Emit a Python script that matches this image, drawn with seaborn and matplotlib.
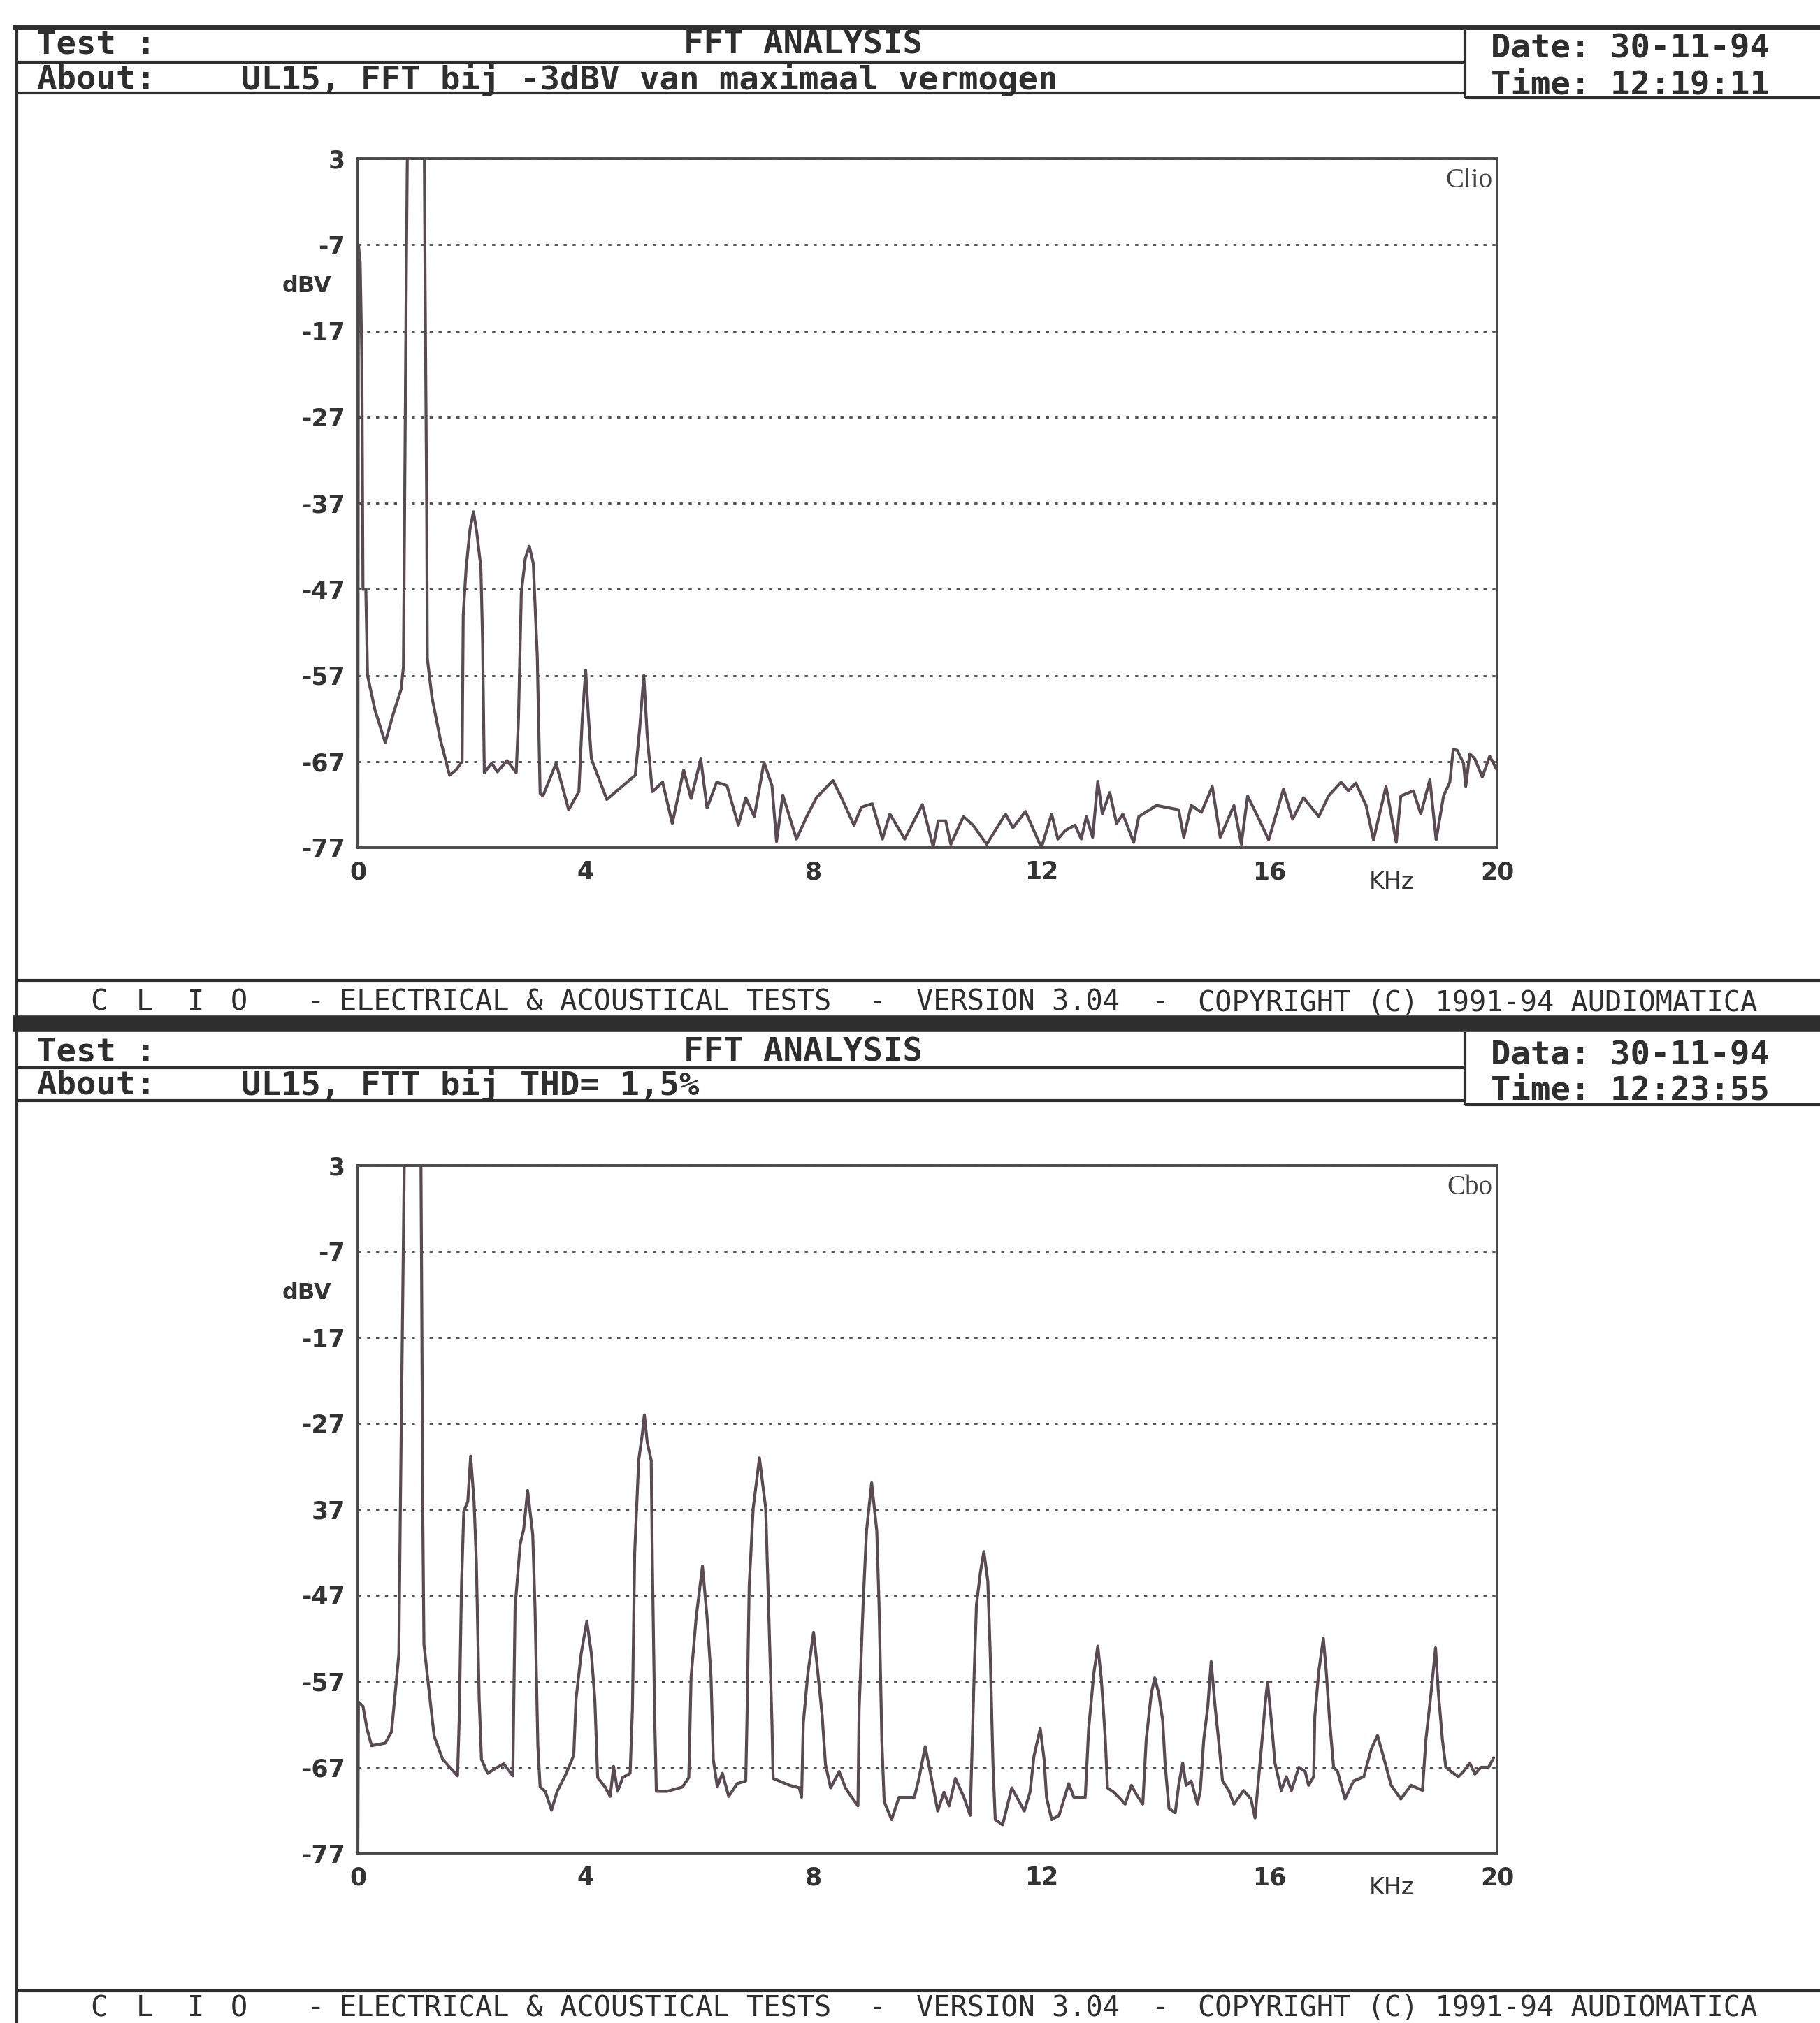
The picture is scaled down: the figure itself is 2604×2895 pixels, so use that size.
import matplotlib
matplotlib.use("Agg")
import matplotlib.pyplot as plt
import seaborn as sns
from matplotlib.lines import Line2D

# Spectrum traces (kHz, dBV); values above 3 are clipped by the frame
freq_top = [0.00, 0.01, 0.04, 0.07, 0.09, 0.14, 0.17, 0.30, 0.48, 0.62, 0.76, 0.80, 0.82, 0.85, 0.88,
            1.16, 1.18, 1.21, 1.22, 1.30, 1.45, 1.61, 1.72, 1.83, 1.85, 1.90, 1.97, 2.03, 2.09, 2.16,
            2.19, 2.22, 2.35, 2.45, 2.62, 2.78, 2.82, 2.87, 2.94, 3.01, 3.08, 3.15, 3.20, 3.25, 3.48,
            3.70, 3.88, 3.94, 4.00, 4.05, 4.10, 4.37, 4.87, 4.95, 5.02, 5.08, 5.17, 5.35, 5.52, 5.72,
            5.85, 6.02, 6.13, 6.30, 6.48, 6.68, 6.81, 6.96, 7.13, 7.27, 7.35, 7.46, 7.70, 7.88, 8.05,
            8.34, 8.49, 8.71, 8.84, 9.03, 9.21, 9.34, 9.60, 9.91, 10.10, 10.19, 10.32, 10.41, 10.63,
            10.80, 11.04, 11.37, 11.50, 11.72, 12.00, 12.18, 12.29, 12.42, 12.59, 12.70, 12.79, 12.90,
            12.99, 13.07, 13.20, 13.32, 13.43, 13.62, 13.71, 14.02, 14.41, 14.50, 14.63, 14.81, 15.00,
            15.14, 15.38, 15.51, 15.62, 15.82, 15.99, 16.25, 16.41, 16.60, 16.87, 17.04, 17.26, 17.39,
            17.52, 17.70, 17.83, 18.05, 18.23, 18.31, 18.53, 18.66, 18.82, 18.93, 19.06, 19.17, 19.23,
            19.30, 19.41, 19.45, 19.52, 19.61, 19.74, 19.87, 20.00]
dbv_top = [-77.0, -7.0, -9.0, -20.0, -47.0, -47.0, -57.0, -61.0, -64.8, -61.5, -58.6, -56.0, -38.5, -11.0, 12.0,
           12.0, -11.0, -38.5, -55.0, -59.5, -64.5, -68.6, -68.0, -67.0, -50.0, -44.6, -40.0, -38.0, -40.5, -44.5,
           -53.0, -68.3, -67.2, -68.2, -66.9, -68.3, -62.0, -47.4, -43.4, -42.0, -44.0, -54.8, -70.7, -71.0, -67.2,
           -72.6, -70.5, -62.0, -56.4, -62.0, -66.7, -71.4, -68.6, -63.0, -57.0, -64.0, -70.5, -69.4, -74.2, -68.0,
           -71.3, -66.7, -72.4, -69.4, -69.8, -74.4, -71.2, -73.4, -67.1, -69.8, -76.3, -70.9, -76.0, -73.4, -71.2,
           -69.2, -71.2, -74.4, -72.3, -71.9, -76.0, -73.1, -76.0, -72.0, -76.9, -73.9, -73.9, -76.6, -73.4,
           -74.4, -76.6, -73.1, -74.7, -72.8, -77.0, -73.1, -76.0, -75.0, -74.4, -76.0, -73.4, -75.8,
           -69.3, -73.1, -70.6, -74.2, -73.1, -76.4, -73.4, -72.1, -72.6, -75.8, -72.1, -72.9, -69.9,
           -75.8, -72.1, -76.6, -71.0, -73.7, -76.1, -70.2, -73.7, -71.2, -73.4, -71.0, -69.4, -70.4,
           -69.5, -72.1, -76.1, -69.9, -76.4, -71.0, -70.4, -73.1, -69.1, -76.1, -71.0, -69.4, -65.6,
           -65.7, -67.2, -69.9, -66.1, -66.7, -68.8, -66.4, -68.0]

freq_bot = [0.00, 0.01, 0.09, 0.16, 0.24, 0.48, 0.59, 0.66, 0.72, 0.745, 0.79, 0.83, 1.10, 1.12, 1.14,
            1.16, 1.25, 1.34, 1.49, 1.75, 1.78, 1.82, 1.86, 1.93, 1.98, 2.04, 2.08, 2.13, 2.17, 2.28,
            2.45, 2.56, 2.72, 2.76, 2.85, 2.91, 2.98, 3.07, 3.11, 3.16, 3.20, 3.29, 3.40, 3.50, 3.66,
            3.79, 3.83, 3.92, 4.02, 4.10, 4.16, 4.21, 4.34, 4.43, 4.49, 4.56, 4.65, 4.78, 4.82, 4.86,
            4.93, 4.99, 5.03, 5.08, 5.15, 5.17, 5.21, 5.24, 5.43, 5.70, 5.81, 5.85, 5.94, 6.05, 6.13,
            6.20, 6.24, 6.31, 6.40, 6.51, 6.66, 6.81, 6.83, 6.87, 6.94, 7.05, 7.16, 7.20, 7.27, 7.29,
            7.58, 7.75, 7.79, 7.82, 7.90, 8.00, 8.06, 8.15, 8.21, 8.30, 8.45, 8.56, 8.67, 8.78, 8.80,
            8.87, 8.93, 9.02, 9.11, 9.15, 9.20, 9.24, 9.37, 9.50, 9.77, 9.85, 9.96, 10.07, 10.18, 10.29,
            10.38, 10.49, 10.64, 10.75, 10.82, 10.86, 10.93, 10.99, 11.06, 11.10, 11.15, 11.19, 11.32,
            11.48, 11.70, 11.80, 11.87, 11.98, 12.05, 12.09, 12.18, 12.31, 12.48, 12.57, 12.77, 12.83,
            12.92, 12.99, 13.05, 13.12, 13.16, 13.27, 13.36, 13.47, 13.58, 13.67, 13.78, 13.84, 13.93,
            13.99, 14.06, 14.13, 14.17, 14.24, 14.35, 14.41, 14.48, 14.54, 14.63, 14.74, 14.79, 14.85,
            14.92, 14.98, 15.05, 15.11, 15.18, 15.29, 15.38, 15.55, 15.68, 15.75, 15.86, 15.93, 15.97,
            16.03, 16.10, 16.21, 16.30, 16.39, 16.52, 16.63, 16.69, 16.78, 16.80, 16.87, 16.95, 17.00,
            17.06, 17.13, 17.20, 17.33, 17.48, 17.66, 17.79, 17.90, 18.01, 18.14, 18.31, 18.49, 18.69,
            18.75, 18.84, 18.92, 18.97, 19.04, 19.10, 19.19, 19.32, 19.41, 19.52, 19.61, 19.72, 19.85,
            19.94]
dbv_bot = [-77.0, -59.4, -59.9, -62.5, -64.5, -64.2, -62.9, -58.1, -53.8, -37.7, -11.0, 12.0, 12.0, -11.0, -37.7,
           -52.7, -58.1, -63.4, -66.1, -68.0, -61.3, -45.8, -37.2, -36.1, -30.8, -36.1, -43.1, -59.1, -66.1, -67.7,
           -67.0, -66.6, -68.0, -48.4, -41.0, -39.4, -34.8, -39.9, -48.4, -64.5, -69.3, -69.8, -72.0, -69.8, -67.7,
           -65.6, -59.1, -53.8, -50.0, -53.8, -59.1, -68.2, -69.3, -70.4, -66.9, -69.8, -68.2, -67.7, -60.2, -42.0,
           -31.3, -28.4, -26.0, -29.2, -31.3, -43.1, -60.7, -69.8, -69.8, -69.3, -68.2, -56.5, -49.5, -43.6, -49.5,
           -56.5, -66.1, -69.3, -67.7, -70.4, -68.9, -68.6, -61.9, -45.9, -36.9, -31.0, -36.9, -45.9, -61.9, -68.3,
           -69.1, -69.4, -70.5, -61.9, -56.1, -51.3, -55.0, -60.9, -66.7, -69.4, -67.5, -69.4, -70.5, -71.5, -60.3,
           -48.1, -39.5, -33.9, -39.5, -48.1, -64.1, -71.0, -73.1, -70.5, -70.5, -68.3, -64.6, -68.3, -72.1, -69.9,
           -71.5, -68.3, -70.5, -72.6, -56.1, -48.1, -44.3, -41.9, -45.4, -53.4, -66.7, -73.1, -73.7,
           -69.4, -72.1, -69.9, -65.7, -62.5, -66.2, -70.5, -73.1, -72.6, -68.9, -70.5, -70.5, -62.5,
           -56.1, -52.9, -56.6, -63.5, -69.4, -69.9, -70.5, -71.3, -69.1, -70.2, -71.3, -63.8, -58.4,
           -56.6, -58.4, -61.6, -66.5, -71.8, -72.3, -69.1, -66.5, -69.1, -68.6, -71.3, -69.7, -63.8,
           -60.0, -54.7, -60.0, -63.8, -68.6, -69.7, -71.3, -69.7, -70.7, -72.9, -64.9, -59.5, -57.1,
           -61.1, -66.5, -69.7, -68.1, -69.7, -67.0, -67.5, -69.1, -68.1, -61.1, -55.8, -52.0, -55.8,
           -61.6, -67.0, -67.5, -70.7, -68.6, -68.1, -64.9, -63.3, -65.9, -69.1, -70.7, -69.1, -69.7,
           -63.8, -58.4, -53.1, -58.4, -63.8, -67.0, -67.5, -68.1, -67.5, -66.5, -67.8, -67.0, -67.0,
           -65.9]

y_ticks = [3, -7, -17, -27, -37, -47, -57, -67, -77]
y_labels_top = ["3", "-7", "-17", "-27", "-37", "-47", "-57", "-67", "-77"]
y_labels_bot = ["3", "-7", "-17", "-27", "37", "-47", "-57", "-67", "-77"]
x_ticks = [0, 4, 8, 12, 16, 20]

footer_parts = ["C", "L", "I", "O", "-", "ELECTRICAL & ACOUSTICAL TESTS", "-", "VERSION 3.04", "-",
                "COPYRIGHT (C) 1991-94 AUDIOMATICA"]

W, H = 2604, 2895
INK = "#2e2e2e"
TRACE = "#5a4a51"

sns.set_theme(style="white")
plt.rcParams['font.family'] = ['DejaVu Sans']

fig = plt.figure(figsize=(W / 100, H / 100), dpi=100)
fig.patch.set_facecolor("white")


def fx(x):
    return x / W


def fy(y):
    return 1 - y / H


def hline(y, x0, x1, lw=3.0):
    fig.add_artist(Line2D([fx(x0), fx(x1)], [fy(y), fy(y)], transform=fig.transFigure,
                          lw=lw, color=INK, solid_capstyle="butt"))


def vline(x, y0, y1, lw=3.0):
    fig.add_artist(Line2D([fx(x), fx(x)], [fy(y0), fy(y1)], transform=fig.transFigure,
                          lw=lw, color=INK, solid_capstyle="butt"))


def mono(x, y, s, size=34, weight="bold", ha="left"):
    fig.text(fx(x), fy(y), s, ha=ha, va="center", fontsize=size, fontweight=weight,
             family="DejaVu Sans Mono", color=INK)


def header(top, test_y, about_y, date_y, time_y, sep_y, low_y, box_low_y, about, date_lbl, time_str):
    vline(2096, top, box_low_y)
    hline(sep_y, 24, 2096)
    hline(low_y, 24, 2096)
    hline(box_low_y, 2096, W)
    mono(52, test_y, "Test :")
    mono(1149, test_y, "FFT ANALYSIS", ha="center")
    mono(52, about_y, "About:")
    mono(345, about_y, about)
    mono(2133, date_y, date_lbl + " 30-11-94")
    mono(2133, time_y, "Time: " + time_str)


def footer(y):
    xs = [129, 195, 268, 330, 440, 486, 1243, 1311, 1648, 1714]
    for x, s in zip(xs, footer_parts):
        mono(x, y, s, size=29, weight="normal")


def panel(top, bottom, freq, dbv, ylabels, tag):
    ax = fig.add_axes([fx(512), fy(bottom), (2142 - 512) / W, (bottom - top) / H])
    ax.set_facecolor("white")
    sns.lineplot(x=freq, y=dbv, ax=ax, color=TRACE, lw=3.0, estimator=None, sort=False)
    ax.set_xlim(0, 20)
    ax.set_ylim(-77, 3)
    ax.set_xticks(x_ticks)
    ax.set_xticklabels([str(t) for t in x_ticks], fontweight="bold")
    ax.set_yticks(y_ticks)
    ax.set_yticklabels(ylabels, fontweight="bold")
    ax.yaxis.grid(True, linestyle=(0, (1.6, 3.0)), color="#4a4a4a", lw=2.0)
    ax.xaxis.grid(False)
    for sp in ax.spines.values():
        sp.set_color("#4a4a4a")
        sp.set_linewidth(2.8)
    ax.tick_params(axis="both", direction="out", length=5, width=1.6, color="#4a4a4a",
                   labelsize=25, labelcolor="#333333", pad=8)
    ax.set_xlabel("")
    ax.set_ylabel("")
    ax.text(-0.045, 0.815, "dBV", transform=ax.transAxes, ha="center", va="center",
            fontsize=23, fontweight="bold", color="#333333")
    ax.text(0.996, 0.968, tag, transform=ax.transAxes, ha="right", va="center",
            fontsize=28, family="Liberation Serif", color="#444444")
    ax.text(18.15, -0.05, "KHz", transform=ax.get_xaxis_transform(), ha="center", va="center",
            fontsize=24, color="#333333")
    return ax


# page frame
vline(24, 37, H, lw=3.0)

# panel 1
hline(39, 18, W, lw=5.0)
header(39, 64, 114, 70, 122, 89, 133, 140,
       "UL15, FFT bij -3dBV van maximaal vermogen", "Date:", "12:19:11")
panel(227, 1213, freq_top, dbv_top, y_labels_top, "Clio")
hline(1403, 24, W, lw=3.0)
footer(1435)
hline(1465, 18, W, lw=17.0)

# panel 2
header(1477, 1506, 1553, 1511, 1561, 1528, 1575, 1581,
       "UL15, FTT bij THD= 1,5%", "Data:", "12:23:55")
panel(1668, 2652, freq_bot, dbv_bot, y_labels_bot, "Cbo")
hline(2849, 24, W, lw=3.0)
footer(2874)

plt.savefig("out.png", dpi=100, facecolor="white")
print("saved out.png")
